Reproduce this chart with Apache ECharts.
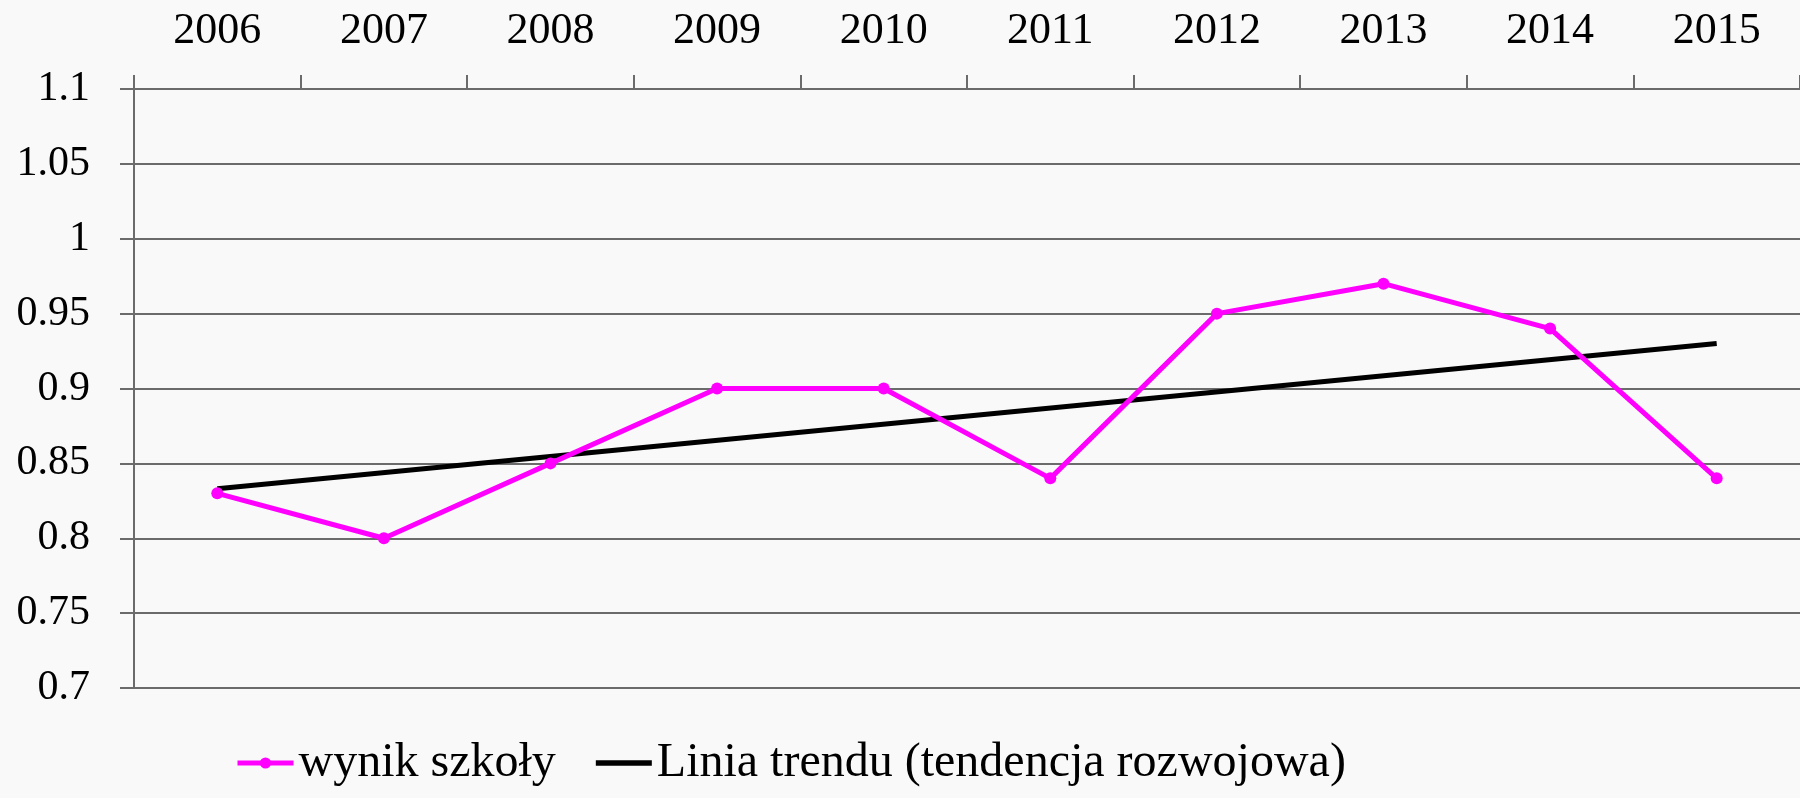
<!DOCTYPE html>
<html>
<head>
<meta charset="utf-8">
<script src="https://cdn.jsdelivr.net/npm/echarts@6/dist/echarts.min.js"></script>
<style>
  html, body { margin: 0; padding: 0; }
  #main { width: 1800px; height: 798px; }
</style>
</head>
<body>
<div id="main"></div>
<script>
// lata na osi X
var years = ['2006', '2007', '2008', '2009', '2010', '2011', '2012', '2013', '2014', '2015'];
// wynik szkoły
var wynik = [0.83, 0.80, 0.85, 0.90, 0.90, 0.84, 0.95, 0.97, 0.94, 0.84];
// linia trendu - tylko końce, reszta pusta (łączona prostą)
var trend = [0.833, null, null, null, null, null, null, null, null, 0.93];

var chart = echarts.init(document.getElementById('main'));
var font = '"Liberation Serif", "DejaVu Serif", serif';

var option = {
  backgroundColor: '#f9f9f9',
  animation: false,
  grid: {
    left: 134,
    top: 89,
    right: -10,
    bottom: 110
  },
  legend: {
    left: 230,
    top: 734,
    itemWidth: 56,
    itemHeight: 14,
    itemGap: 40,
    lineStyle: { width: 5 },
    textStyle: {
      fontFamily: font,
      fontSize: 48,
      color: '#000'
    },
    data: [
      { name: 'wynik szkoły' },
      // sama kreska bez kropki
      { name: 'Linia trendu (tendencja rozwojowa)', icon: 'path://M0,0h10v1h-10z' }
    ]
  },
  xAxis: {
    type: 'category',
    position: 'top',
    data: years,
    boundaryGap: true,
    axisLine: { lineStyle: { color: '#6b6b6b', width: 2 } },
    axisTick: { show: true, inside: false, length: 14, lineStyle: { color: '#6b6b6b', width: 2 } },
    axisLabel: {
      margin: 36,
      fontFamily: font,
      fontSize: 44,
      color: '#000'
    },
    splitLine: { show: false }
  },
  yAxis: {
    type: 'value',
    min: 0.7,
    max: 1.1,
    interval: 0.05,
    axisLine: { show: true, lineStyle: { color: '#6b6b6b', width: 2 } },
    axisTick: { show: true, length: 14, lineStyle: { color: '#6b6b6b', width: 2 } },
    axisLabel: {
      margin: 44,
      fontFamily: font,
      fontSize: 42,
      color: '#000',
      formatter: function (v) {
        return String(parseFloat(v.toFixed(2)));
      }
    },
    splitLine: { show: true, lineStyle: { color: '#6b6b6b', width: 2 } }
  },
  series: [
    {
      name: 'wynik szkoły',
      type: 'line',
      data: wynik,
      symbol: 'circle',
      symbolSize: 12,
      lineStyle: { color: '#ff00ff', width: 5 },
      itemStyle: { color: '#ff00ff' },
      z: 3
    },
    {
      name: 'Linia trendu (tendencja rozwojowa)',
      type: 'line',
      data: trend,
      connectNulls: true,
      symbol: 'none',
      lineStyle: { color: '#000', width: 5 },
      itemStyle: { color: '#000' },
      z: 2
    }
  ]
};

chart.setOption(option);
</script>
</body>
</html>
